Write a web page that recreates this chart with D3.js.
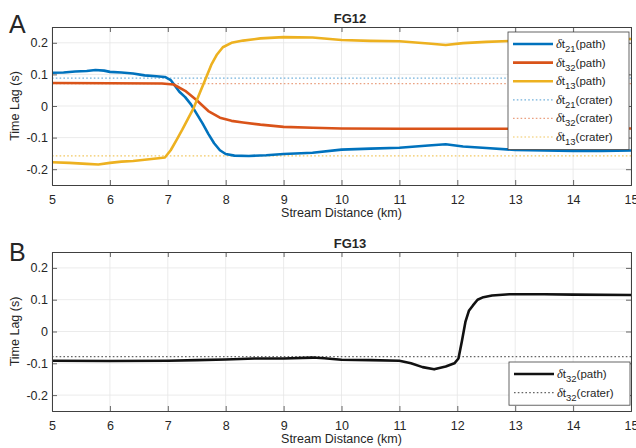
<!DOCTYPE html>
<html>
<head>
<meta charset="utf-8">
<script src="https://cdn.jsdelivr.net/npm/d3@7"></script>
<style>
  body { margin: 0; background: #fff; }
  text { font-family: "Liberation Sans", Arial, sans-serif; fill: #262626; }
</style>
</head>
<body>
<script>
// chart data
var xTicks = [5, 6, 7, 8, 9, 10, 11, 12, 13, 14, 15];
var yTicks = [-0.2, -0.1, 0, 0.1, 0.2];
var yTickLabels = ["-0.2", "-0.1", "0", "0.1", "0.2"];

// panel A (FG12)
var dist21 = [5, 5.2, 5.4, 5.6, 5.75, 5.9, 6.0, 6.2, 6.4, 6.6, 6.8, 6.95, 7.05, 7.12, 7.2, 7.3, 7.4, 7.5, 7.6, 7.7, 7.8, 7.9, 8.0, 8.15, 8.4, 8.7, 9.0, 9.5, 10.0, 10.5, 11.0, 11.5, 11.8, 12.1, 12.5, 13.0, 13.5, 14.0, 14.5, 15];
var path21 = [0.105, 0.106, 0.109, 0.111, 0.114, 0.112, 0.108, 0.106, 0.103, 0.097, 0.094, 0.092, 0.082, 0.065, 0.045, 0.028, 0.005, -0.025, -0.055, -0.088, -0.118, -0.14, -0.152, -0.157, -0.158, -0.156, -0.152, -0.148, -0.138, -0.135, -0.132, -0.125, -0.121, -0.128, -0.133, -0.139, -0.141, -0.142, -0.142, -0.141];

var dist32 = [5, 6, 6.9, 7.1, 7.3, 7.5, 7.7, 7.9, 8.1, 8.3, 8.6, 9.0, 9.5, 10, 11, 12, 13, 14, 15];
var path32 = [0.073, 0.072, 0.071, 0.068, 0.048, 0.018, -0.016, -0.037, -0.047, -0.052, -0.059, -0.066, -0.069, -0.071, -0.072, -0.072, -0.072, -0.071, -0.071];

var dist13 = [5, 5.3, 5.6, 5.8, 6.0, 6.2, 6.4, 6.6, 6.8, 6.95, 7.05, 7.15, 7.25, 7.35, 7.45, 7.55, 7.65, 7.75, 7.85, 7.95, 8.1, 8.3, 8.6, 9.0, 9.5, 10.0, 10.5, 11.0, 11.5, 11.8, 12.1, 12.5, 13.0, 13.5, 14.0, 14.5, 15];
var path13 = [-0.178, -0.18, -0.183, -0.185, -0.18, -0.176, -0.174, -0.17, -0.166, -0.163, -0.14, -0.108, -0.075, -0.04, -0.005, 0.04, 0.085, 0.13, 0.163, 0.186, 0.2, 0.207, 0.214, 0.218, 0.217, 0.209, 0.206, 0.205, 0.198, 0.193, 0.199, 0.203, 0.206, 0.209, 0.211, 0.212, 0.212];

var crater21 = 0.088;
var crater32 = 0.071;
var crater13 = -0.158;

// panel B (FG13)
var distB = [5, 6, 7, 7.5, 8, 8.5, 9, 9.5, 9.7, 10, 10.5, 11, 11.2, 11.4, 11.6, 11.8, 11.95, 12.02, 12.08, 12.14, 12.2, 12.27, 12.35, 12.45, 12.6, 12.9, 13.5, 14, 15];
var pathB32 = [-0.092, -0.093, -0.092, -0.09, -0.088, -0.085, -0.085, -0.082, -0.084, -0.089, -0.09, -0.092, -0.1, -0.112, -0.119, -0.11, -0.1, -0.085, -0.03, 0.03, 0.065, 0.082, 0.1, 0.108, 0.113, 0.117, 0.117, 0.116, 0.115];
var craterB32 = -0.079;

var colBlue = "#0072BD", colRed = "#D95319", colYellow = "#EDB120";

var svg = d3.select("body").append("svg")
    .attr("width", 636)
    .attr("height", 448);

var x = d3.scaleLinear().domain([5, 15]).range([52, 631]);

function drawPanel(top, bottom, title, letter, letterY, series, craters, legend) {
    var y = d3.scaleLinear().domain([-0.25, 0.25]).range([bottom, top]);
    var g = svg.append("g");

    // grid
    g.selectAll(".gx").data(xTicks).enter().append("line")
        .attr("x1", d => x(d)).attr("x2", d => x(d))
        .attr("y1", top).attr("y2", bottom)
        .attr("stroke", "#e6e6e6").attr("stroke-width", 0.8);
    g.selectAll(".gy").data(yTicks).enter().append("line")
        .attr("x1", 52).attr("x2", 631)
        .attr("y1", d => y(d)).attr("y2", d => y(d))
        .attr("stroke", "#e6e6e6").attr("stroke-width", 0.8);

    // crater (dotted) lines
    craters.forEach(function(c) {
        g.append("line")
            .attr("x1", 52).attr("x2", 631)
            .attr("y1", y(c.v)).attr("y2", y(c.v))
            .attr("stroke", c.color).attr("stroke-opacity", c.op)
            .attr("stroke-width", 1.2)
            .attr("stroke-dasharray", "1.6,2.2");
    });

    // path lines
    var line = d3.line().x(d => x(d[0])).y(d => y(d[1]));
    series.forEach(function(s) {
        g.append("path")
            .datum(d3.zip(s.x, s.y))
            .attr("d", line)
            .attr("fill", "none")
            .attr("stroke", s.color)
            .attr("stroke-width", 2.6)
            .attr("stroke-linejoin", "round");
    });

    // axes (ticks inside, box on)
    var ax = g.append("g").attr("transform", `translate(0,${bottom})`)
        .call(d3.axisBottom(x).tickValues(xTicks).tickSize(-5).tickPadding(10).tickFormat(d3.format("d")));
    var axt = g.append("g").attr("transform", `translate(0,${top})`)
        .call(d3.axisTop(x).tickValues(xTicks).tickSize(-5).tickFormat(""));
    var ay = g.append("g").attr("transform", "translate(52,0)")
        .call(d3.axisLeft(y).tickValues(yTicks).tickSize(-5).tickPadding(4)
            .tickFormat((d, i) => yTickLabels[i]));
    var ayr = g.append("g").attr("transform", "translate(631,0)")
        .call(d3.axisRight(y).tickValues(yTicks).tickSize(-5).tickFormat(""));
    [ax, axt, ay, ayr].forEach(function(a) {
        a.select(".domain").attr("stroke", "#404040").attr("stroke-width", 1);
        a.selectAll(".tick line").attr("stroke", "#404040").attr("stroke-width", 0.8);
        a.selectAll("text").style("font-size", "12.5px").attr("fill", "#262626");
    });

    // titles
    g.append("text").attr("x", 350).attr("y", top - 4)
        .attr("text-anchor", "middle").style("font-size", "13px").style("font-weight", "bold")
        .text(title);
    g.append("text").attr("x", 9).attr("y", letterY)
        .style("font-size", "25px").text(letter);
    g.append("text")
        .attr("transform", `translate(19,${(top + bottom) / 2}) rotate(-90)`)
        .attr("text-anchor", "middle").style("font-size", "12.5px")
        .text("Time Lag (s)");
    g.append("text").attr("x", x(10)).attr("y", bottom + 32)
        .attr("text-anchor", "middle").style("font-size", "12.5px")
        .text("Stream Distance (km)");

    // legend
    var lg = g.append("g");
    lg.append("rect")
        .attr("x", legend.x).attr("y", legend.y)
        .attr("width", 121).attr("height", legend.items.length * 18.6 + 6)
        .attr("fill", "#fff").attr("stroke", "#404040").attr("stroke-width", 0.8);
    legend.items.forEach(function(it, i) {
        var ly = legend.y + 12 + i * 18.6;
        lg.append("line")
            .attr("x1", legend.x + 5).attr("x2", legend.x + 45)
            .attr("y1", ly).attr("y2", ly)
            .attr("stroke", it.color)
            .attr("stroke-opacity", it.op || 1)
            .attr("stroke-width", it.dotted ? 1.2 : 2.6)
            .attr("stroke-dasharray", it.dotted ? "1.6,2.2" : null);
        var t = lg.append("text").attr("x", legend.x + 48).attr("y", ly + 4)
            .style("font-size", "11.5px");
        t.append("tspan").style("font-family", "'Liberation Serif', serif").style("font-style", "italic")
            .style("font-size", "12.5px").text("δ");
        t.append("tspan").text("t");
        t.append("tspan").attr("dy", 4).style("font-size", "9.5px").text(it.sub);
        t.append("tspan").attr("dy", -4).text(it.label);
    });
}

drawPanel(27, 185, "FG12", "A", 33,
    [
        { x: dist21, y: path21, color: colBlue },
        { x: dist32, y: path32, color: colRed },
        { x: dist13, y: path13, color: colYellow }
    ],
    [
        { v: crater21, color: colBlue, op: 0.55 },
        { v: crater32, color: colRed, op: 0.55 },
        { v: crater13, color: colYellow, op: 0.7 }
    ],
    { x: 508, y: 32, items: [
        { sub: "21", label: "(path)", color: colBlue },
        { sub: "32", label: "(path)", color: colRed },
        { sub: "13", label: "(path)", color: colYellow },
        { sub: "21", label: "(crater)", color: colBlue, dotted: true, op: 0.55 },
        { sub: "32", label: "(crater)", color: colRed, dotted: true, op: 0.55 },
        { sub: "13", label: "(crater)", color: colYellow, dotted: true, op: 0.7 }
    ] });

drawPanel(252, 411, "FG13", "B", 261,
    [ { x: distB, y: pathB32, color: "#111" } ],
    [ { v: craterB32, color: "#555", op: 0.9 } ],
    { x: 509, y: 362, items: [
        { sub: "32", label: "(path)", color: "#111" },
        { sub: "32", label: "(crater)", color: "#555", dotted: true, op: 0.9 }
    ] });
</script>
</body>
</html>
